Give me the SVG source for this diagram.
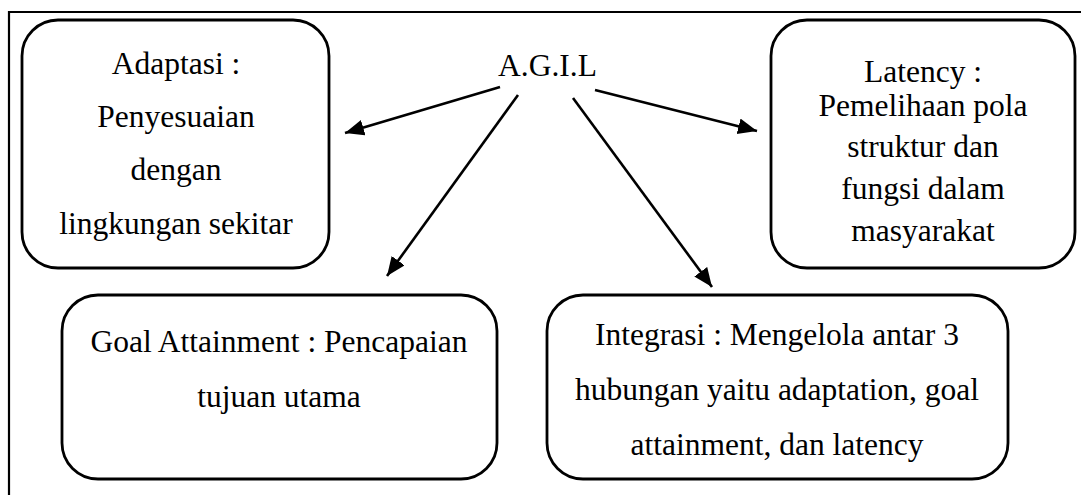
<svg xmlns="http://www.w3.org/2000/svg" width="1081" height="495" viewBox="0 0 1081 495">
<defs>
<style>
.box{fill:#fff;stroke:#000;stroke-width:2.8}
.t{font-family:"Liberation Serif","Times New Roman",serif;font-size:31.5px;fill:#000;text-anchor:middle}
.c{stroke:#000;stroke-width:2.6;fill:none;marker-end:url(#ah)}
.frame{stroke:#000;stroke-width:2.2;fill:none}
</style>
<marker id="ah" markerUnits="userSpaceOnUse" markerWidth="22" markerHeight="18" refX="19" refY="8" orient="auto" viewBox="0 0 22 18">
<path d="M0,0 L19,8 L0,16 z" fill="#000"/>
</marker>
</defs>
<rect width="1081" height="495" fill="#fff"/>
<path class="frame" d="M9,495 L9,12 L1081,12"/>
<g id="agil"><text class="t" x="547.5" y="76">A.G.I.L</text></g>
<g id="adaptasi">
<rect class="box" x="22" y="20" width="307" height="248" rx="36"/>
<text class="t" x="176" y="74">Adaptasi :</text>
<text class="t" x="176" y="127">Penyesuaian</text>
<text class="t" x="176" y="180">dengan</text>
<text class="t" x="176" y="234">lingkungan sekitar</text>
</g>
<g id="latency">
<rect class="box" x="771" y="20" width="304" height="248" rx="36"/>
<text class="t" x="923" y="82">Latency :</text>
<text class="t" x="923" y="116">Pemelihaan pola</text>
<text class="t" x="923" y="157">struktur dan</text>
<text class="t" x="923" y="199">fungsi dalam</text>
<text class="t" x="923" y="241">masyarakat</text>
</g>
<g id="goal">
<rect class="box" x="62" y="295" width="435" height="184" rx="36"/>
<text class="t" x="279" y="352">Goal Attainment : Pencapaian</text>
<text class="t" x="279" y="407">tujuan utama</text>
</g>
<g id="integrasi">
<rect class="box" x="547" y="295" width="461" height="184" rx="36"/>
<text class="t" x="777" y="345">Integrasi : Mengelola antar 3</text>
<text class="t" x="777" y="400">hubungan yaitu adaptation, goal</text>
<text class="t" x="777" y="455">attainment, dan latency</text>
</g>
<g id="connectors">
<line class="c" x1="500" y1="87" x2="345" y2="133"/>
<line class="c" x1="518" y1="95" x2="387" y2="276"/>
<line class="c" x1="573" y1="98" x2="712" y2="287"/>
<line class="c" x1="595" y1="90" x2="757" y2="131"/>
</g>
</svg>
